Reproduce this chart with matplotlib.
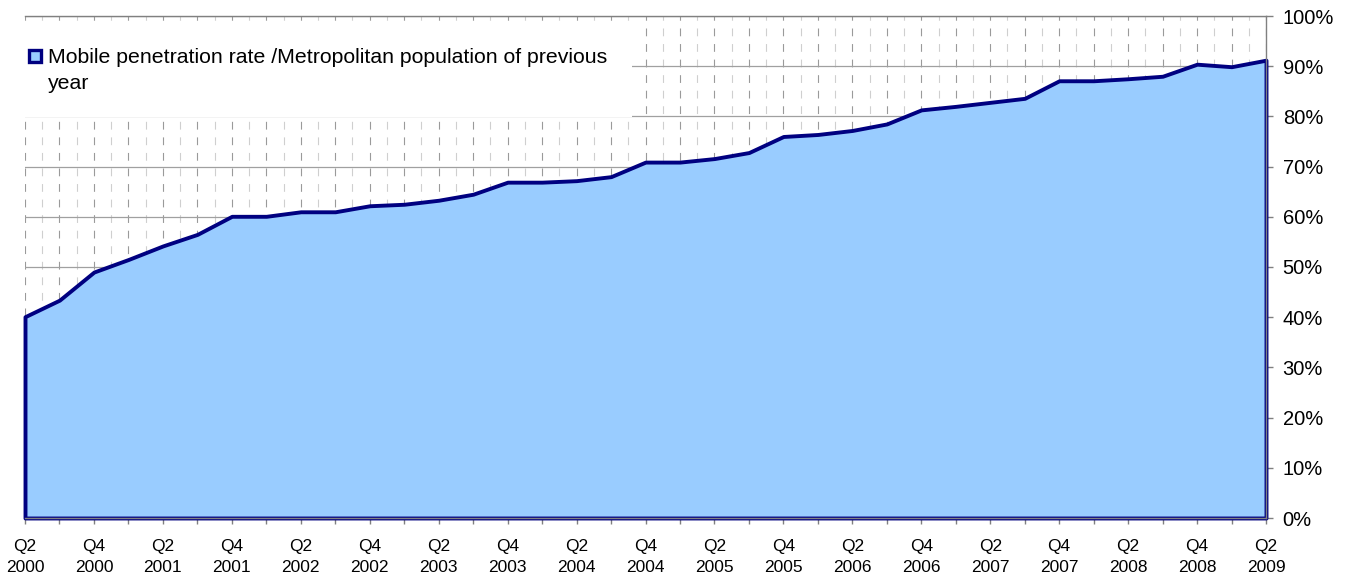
import matplotlib
matplotlib.use("Agg")
import matplotlib.pyplot as plt
from matplotlib.patches import Rectangle
import numpy as np

# quarters from Q2 2000 to Q2 2009
quarters = [
    "Q2 2000", "Q3 2000", "Q4 2000", "Q1 2001", "Q2 2001", "Q3 2001", "Q4 2001",
    "Q1 2002", "Q2 2002", "Q3 2002", "Q4 2002", "Q1 2003", "Q2 2003", "Q3 2003",
    "Q4 2003", "Q1 2004", "Q2 2004", "Q3 2004", "Q4 2004", "Q1 2005", "Q2 2005",
    "Q3 2005", "Q4 2005", "Q1 2006", "Q2 2006", "Q3 2006", "Q4 2006", "Q1 2007",
    "Q2 2007", "Q3 2007", "Q4 2007", "Q1 2008", "Q2 2008", "Q3 2008", "Q4 2008",
    "Q1 2009", "Q2 2009",
]
# mobile penetration rate, % of metropolitan population of previous year
penetration = [
    40.1, 43.4, 49.0, 51.5, 54.2, 56.5, 60.1,
    60.1, 61.0, 61.0, 62.2, 62.5, 63.3, 64.5,
    66.9, 66.9, 67.2, 68.0, 70.9, 70.9, 71.6,
    72.8, 76.0, 76.4, 77.2, 78.5, 81.3, 82.0,
    82.8, 83.6, 87.1, 87.1, 87.5, 88.0, 90.4,
    89.9, 91.2,
]
legend_label = "Mobile penetration rate /Metropolitan population of previous"
legend_label2 = "year"

FILL = "#99CCFF"
EDGE = "#000080"
W, H = 1356, 583

plt.rcParams["font.family"] = ["Liberation Sans", "DejaVu Sans"]

fig = plt.figure(figsize=(W / 100, H / 100), dpi=100)
ax = fig.add_axes([25 / W, 1 - 518 / H, (1266 - 25) / W, (518 - 16) / H])

x = np.arange(len(penetration))
ax.fill_between(x, penetration, 0, facecolor=FILL, edgecolor=EDGE,
                linewidth=2.8, zorder=2, clip_on=False)

ax.set_xlim(0, len(penetration) - 1)
ax.set_ylim(0, 100)

# x ticks every quarter, labels every second quarter
ax.set_xticks(x)
labels = [q.replace(" ", "\n") if i % 2 == 0 else "" for i, q in enumerate(quarters)]
ax.set_xticklabels(labels, fontsize=12.5)
for t in ax.get_xticklabels():
    t.set_linespacing(1.5)
ax.set_xticks(np.arange(0.5, len(penetration) - 1, 1), minor=True)
ax.tick_params(axis="x", which="major", direction="out", length=4.5, width=1,
               color="#808080", pad=10.8)
ax.tick_params(axis="x", which="minor", length=0)

ax.yaxis.tick_right()
ax.set_yticks(np.arange(0, 101, 10))
ax.set_yticklabels([f"{v}%" for v in range(0, 101, 10)], fontsize=14.5)
ax.tick_params(axis="y", direction="out", length=5, width=1, color="#808080", pad=7)

# grid
ax.set_axisbelow(True)
ax.grid(axis="y", which="major", color="#a0a0a0", linewidth=0.9)
ax.grid(axis="x", which="major", color="#9a9a9a", linewidth=0.8,
        linestyle=(0, (7, 7)))
ax.grid(axis="x", which="minor", color="#cfcfcf", linewidth=0.8,
        linestyle=(0, (7, 7)))

ax.spines["left"].set_visible(False)
for s in ["top", "right", "bottom"]:
    ax.spines[s].set_color("#808080")
    ax.spines[s].set_linewidth(1)

# legend box (white, hides the grid)
def px2ax(px, py):
    return (px - 25) / (1266 - 25), (518 - py) / (518 - 16)

x0, y0 = px2ax(20, 117)
x1, y1 = px2ax(632, 25)
ax.add_patch(Rectangle((x0, y0), x1 - x0, y1 - y0, transform=ax.transAxes,
                       facecolor="white", edgecolor="none", zorder=3, clip_on=False))
mx0, my0 = px2ax(28.5, 62)
mx1, my1 = px2ax(40.5, 50)
ax.add_patch(Rectangle((mx0, my0), mx1 - mx0, my1 - my0, transform=ax.transAxes,
                       facecolor=FILL, edgecolor=EDGE, linewidth=2.4, zorder=4,
                       clip_on=False))
tx, ty = px2ax(48, 63)
ax.text(tx, ty, legend_label, transform=ax.transAxes, fontsize=15.3, va="baseline",
        ha="left", zorder=5)
tx, ty = px2ax(48, 89)
ax.text(tx, ty, legend_label2, transform=ax.transAxes, fontsize=15.3, va="baseline",
        ha="left", zorder=5)

fig.savefig("out.png", dpi=100)
plt.close(fig)
